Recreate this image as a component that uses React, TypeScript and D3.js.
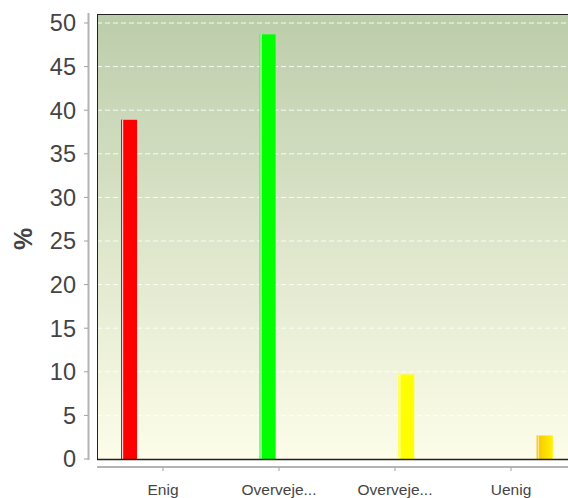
import React from "react";
import * as d3 from "d3";

const categories = ["Enig", "Overveje...", "Overveje... ", "Uenig"];
const seriesNames = ["s1", "s2", "s3", "s4"];
const values = [38.9, 48.7, 9.7, 2.7];
const seriesColors = ["#ff0000", "#00ff00", "#ffff00", "#ffd000"];
const seriesEdge = ["#ff0000", "#66ff66", "#ffff66", "#ffc000"];
const yTicks = [0, 5, 10, 15, 20, 25, 30, 35, 40, 45, 50];

const W = 568;
const H = 498;

export default function App() {
  const y = d3.scaleLinear().domain([0, 50]).range([459, 23]);
  const x = d3.scaleBand<string>().domain(categories).range([105, 569]).padding(0);
  const inner = d3
    .scaleBand<string>()
    .domain(seriesNames)
    .range([16, 99.8])
    .paddingInner(0.29)
    .paddingOuter(0);
  const plotLeft = 97;
  const plotTop = 14;
  const plotBottom = 459;
  const plotRight = 620;
  const font = "'Liberation Sans', Arial, sans-serif";

  return (
    <svg
      width={W}
      height={H}
      style={{ position: "absolute", left: 0, top: 0, overflow: "hidden" }}
      fontFamily={font}
    >
      <defs>
        <linearGradient id="bg" x1="0" y1="0" x2="0" y2="1">
          <stop offset="0" stopColor="#bccdab" />
          <stop offset="1" stopColor="#fdfde9" />
        </linearGradient>
        <linearGradient id="og" x1="0" y1="0" x2="1" y2="0">
          <stop offset="0" stopColor="#f7c400" />
          <stop offset="1" stopColor="#fff200" />
        </linearGradient>
      </defs>
      <rect x={0} y={0} width={W} height={H} fill="#ffffff" />
      <rect
        x={plotLeft}
        y={plotTop}
        width={plotRight - plotLeft}
        height={plotBottom - plotTop}
        fill="url(#bg)"
      />
      {yTicks
        .filter((t) => t > 0)
        .map((t) => (
          <line
            key={"g" + t}
            x1={plotLeft}
            x2={plotRight}
            y1={y(t)}
            y2={y(t)}
            stroke="#ffffff"
            strokeWidth={1}
            strokeDasharray="5,3"
            opacity={0.9}
          />
        ))}
      {categories.map((c, i) => {
        const bx = (x(c) as number) + (inner(seriesNames[i]) as number);
        const bw = inner.bandwidth();
        const top = y(values[i]);
        const h = y(0) - top;
        const fill = i === 3 ? "url(#og)" : seriesColors[i];
        return (
          <g key={"b" + i}>
            <rect x={bx} y={top} width={bw} height={h} fill={fill} />
            <rect x={bx} y={top} width={1} height={h} fill={seriesEdge[i]} />
            <rect x={bx + 1} y={top} width={1.2} height={h} fill="#ffffff" opacity={i === 3 ? 0.6 : 0.8} />
          </g>
        );
      })}
      {/* plot border */}
      <line x1={plotLeft} x2={plotRight} y1={plotTop + 0.5} y2={plotTop + 0.5} stroke="#222" strokeWidth={1} />
      <line x1={plotLeft + 0.5} x2={plotLeft + 0.5} y1={plotTop} y2={plotBottom} stroke="#222" strokeWidth={1} />
      <line x1={plotLeft} x2={plotRight} y1={plotBottom + 0.5} y2={plotBottom + 0.5} stroke="#222" strokeWidth={1.5} />
      {/* y axis */}
      <line x1={88.5} x2={88.5} y1={13} y2={460} stroke="#b4b4b4" strokeWidth={2} />
      {yTicks.map((t) => (
        <g key={"t" + t}>
          <line x1={84} x2={88} y1={y(t)} y2={y(t)} stroke="#a0a0a0" strokeWidth={1} />
          <text
            x={76}
            y={y(t)}
            dy="0.36em"
            textAnchor="end"
            fontSize={23.5}
            fill="#444444"
          >
            {t}
          </text>
        </g>
      ))}
      <text
        transform={`translate(32,239) rotate(-90)`}
        textAnchor="middle"
        fontSize={25}
        fontWeight="bold"
        fill="#444444"
      >
        %
      </text>
      {/* x axis */}
      <line x1={plotLeft} x2={plotRight} y1={467} y2={467} stroke="#b4b4b4" strokeWidth={2} />
      {categories.map((c) => {
        const cx = (x(c) as number) + x.bandwidth() / 2;
        return (
          <g key={"x" + c}>
            <line x1={cx} x2={cx} y1={467} y2={471} stroke="#a0a0a0" strokeWidth={1} />
            <text x={cx} y={495} textAnchor="middle" fontSize={15.5} fill="#444444">
              {c.trim()}
            </text>
          </g>
        );
      })}
    </svg>
  );
}
